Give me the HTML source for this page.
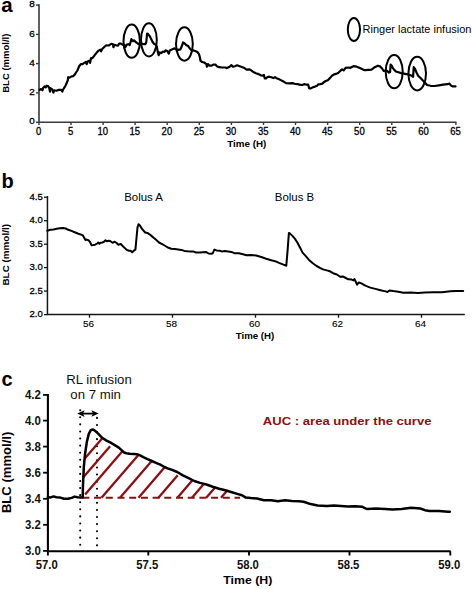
<!DOCTYPE html>
<html><head><meta charset="utf-8"><style>
html,body{margin:0;padding:0;background:#fff;}
svg{display:block;font-family:"Liberation Sans",sans-serif;}
</style></head><body>
<svg width="472" height="589" viewBox="0 0 472 589">
<rect width="472" height="589" fill="#fff"/>
<text x="1.3" y="12.4" font-size="20.5" text-anchor="start" font-weight="bold" fill="#000" >a</text>
<path d="M39 4.2V122.2H456.4" fill="none" stroke="#3a3a3a" stroke-width="1.6"/>
<path d="M36 5.1H39" stroke="#3a3a3a" stroke-width="1.4"/>
<text transform="translate(34.7,7.199999999999999) scale(1.1,1)" font-size="9" text-anchor="end" font-weight="normal" fill="#000" stroke="#000" stroke-width="0.3">8</text>
<path d="M36 34.4H39" stroke="#3a3a3a" stroke-width="1.4"/>
<text transform="translate(34.7,36.5) scale(1.1,1)" font-size="9" text-anchor="end" font-weight="normal" fill="#000" stroke="#000" stroke-width="0.3">6</text>
<path d="M36 63.6H39" stroke="#3a3a3a" stroke-width="1.4"/>
<text transform="translate(34.7,65.7) scale(1.1,1)" font-size="9" text-anchor="end" font-weight="normal" fill="#000" stroke="#000" stroke-width="0.3">4</text>
<path d="M36 92.9H39" stroke="#3a3a3a" stroke-width="1.4"/>
<text transform="translate(34.7,95.0) scale(1.1,1)" font-size="9" text-anchor="end" font-weight="normal" fill="#000" stroke="#000" stroke-width="0.3">2</text>
<path d="M36 122.2H39" stroke="#3a3a3a" stroke-width="1.4"/>
<text transform="translate(34.7,124.3) scale(1.1,1)" font-size="9" text-anchor="end" font-weight="normal" fill="#000" stroke="#000" stroke-width="0.3">0</text>
<path d="M38.9 122.2V125" stroke="#3a3a3a" stroke-width="1.4"/>
<text transform="translate(38.6,134.6) scale(0.95,1)" font-size="10" text-anchor="middle" font-weight="normal" fill="#000" stroke="#000" stroke-width="0.3">0</text>
<path d="M71.0 122.2V125" stroke="#3a3a3a" stroke-width="1.4"/>
<text transform="translate(70.7,134.6) scale(0.95,1)" font-size="10" text-anchor="middle" font-weight="normal" fill="#000" stroke="#000" stroke-width="0.3">5</text>
<path d="M103.1 122.2V125" stroke="#3a3a3a" stroke-width="1.4"/>
<text transform="translate(102.8,134.6) scale(0.95,1)" font-size="10" text-anchor="middle" font-weight="normal" fill="#000" stroke="#000" stroke-width="0.3">10</text>
<path d="M135.1 122.2V125" stroke="#3a3a3a" stroke-width="1.4"/>
<text transform="translate(134.79999999999998,134.6) scale(0.95,1)" font-size="10" text-anchor="middle" font-weight="normal" fill="#000" stroke="#000" stroke-width="0.3">15</text>
<path d="M167.2 122.2V125" stroke="#3a3a3a" stroke-width="1.4"/>
<text transform="translate(166.89999999999998,134.6) scale(0.95,1)" font-size="10" text-anchor="middle" font-weight="normal" fill="#000" stroke="#000" stroke-width="0.3">20</text>
<path d="M199.3 122.2V125" stroke="#3a3a3a" stroke-width="1.4"/>
<text transform="translate(199.0,134.6) scale(0.95,1)" font-size="10" text-anchor="middle" font-weight="normal" fill="#000" stroke="#000" stroke-width="0.3">25</text>
<path d="M231.4 122.2V125" stroke="#3a3a3a" stroke-width="1.4"/>
<text transform="translate(231.1,134.6) scale(0.95,1)" font-size="10" text-anchor="middle" font-weight="normal" fill="#000" stroke="#000" stroke-width="0.3">30</text>
<path d="M263.5 122.2V125" stroke="#3a3a3a" stroke-width="1.4"/>
<text transform="translate(263.2,134.6) scale(0.95,1)" font-size="10" text-anchor="middle" font-weight="normal" fill="#000" stroke="#000" stroke-width="0.3">35</text>
<path d="M295.5 122.2V125" stroke="#3a3a3a" stroke-width="1.4"/>
<text transform="translate(295.2,134.6) scale(0.95,1)" font-size="10" text-anchor="middle" font-weight="normal" fill="#000" stroke="#000" stroke-width="0.3">40</text>
<path d="M327.6 122.2V125" stroke="#3a3a3a" stroke-width="1.4"/>
<text transform="translate(327.3,134.6) scale(0.95,1)" font-size="10" text-anchor="middle" font-weight="normal" fill="#000" stroke="#000" stroke-width="0.3">45</text>
<path d="M359.7 122.2V125" stroke="#3a3a3a" stroke-width="1.4"/>
<text transform="translate(359.4,134.6) scale(0.95,1)" font-size="10" text-anchor="middle" font-weight="normal" fill="#000" stroke="#000" stroke-width="0.3">50</text>
<path d="M391.8 122.2V125" stroke="#3a3a3a" stroke-width="1.4"/>
<text transform="translate(391.5,134.6) scale(0.95,1)" font-size="10" text-anchor="middle" font-weight="normal" fill="#000" stroke="#000" stroke-width="0.3">55</text>
<path d="M423.9 122.2V125" stroke="#3a3a3a" stroke-width="1.4"/>
<text transform="translate(423.59999999999997,134.6) scale(0.95,1)" font-size="10" text-anchor="middle" font-weight="normal" fill="#000" stroke="#000" stroke-width="0.3">60</text>
<path d="M455.9 122.2V125" stroke="#3a3a3a" stroke-width="1.4"/>
<text transform="translate(455.59999999999997,134.6) scale(0.95,1)" font-size="10" text-anchor="middle" font-weight="normal" fill="#000" stroke="#000" stroke-width="0.3">65</text>
<text x="246.8" y="146.5" font-size="9.8" text-anchor="middle" font-weight="bold" fill="#000" >Time (H)</text>
<text transform="translate(8.5,63.2) rotate(-90)" font-size="9.5" font-weight="bold" text-anchor="middle" fill="#000">BLC (mmol/l)</text>
<polyline points="39.4,89.9 41.1,89.1 42.4,90.3 43.2,87.8 44.5,86.5 45.7,87.4 46.6,85.7 47.9,86.1 49.1,87.4 50.0,91.6 50.4,88.2 52.1,89.1 53.4,92.5 54.2,90.3 56.3,90.8 58.9,89.9 61.4,89.9 62.3,91.6 63.1,89.5 64.8,86.9 66.5,83.6 67.8,80.2 68.2,77.2 69.5,77.6 71.6,76.4 73.3,76.1 75.0,74.2 75.7,73.0 77.4,70.5 79.1,66.3 80.8,64.2 82.5,64.2 84.2,62.9 85.9,62.0 86.7,64.2 87.6,61.6 89.3,60.8 90.1,62.9 91.0,58.2 92.2,58.2 94.3,55.7 96.9,52.3 98.6,50.6 100.3,49.7 101.1,51.4 102.0,49.3 104.5,46.8 106.2,45.3 108.7,45.5 111.3,43.8 113.0,44.2 113.4,47.2 114.5,44.8 116.2,45.3 117.9,45.7 119.2,43.6 120.5,43.6 122.5,44.6 124.7,45.4 125.5,47.1 126.8,44.6 128.5,44.2 129.7,45.0 130.6,42.0 131.4,39.1 132.3,40.3 133.1,41.2 134.0,40.3 135.3,41.6 136.9,42.9 138.2,43.7 140.3,44.6 142.0,43.7 143.7,44.2 145.4,44.2 146.3,42.0 147.1,33.6 148.0,34.0 149.7,36.1 151.4,39.5 152.6,42.0 153.9,43.7 155.6,44.6 156.9,47.1 157.7,51.4 158.7,55.2 159.8,52.5 161.4,53.1 162.9,51.5 164.5,52.0 165.6,50.4 167.2,51.0 168.8,53.6 169.8,50.4 171.9,49.4 174.6,48.3 176.2,49.4 178.3,49.9 180.4,49.4 182.0,45.7 183.1,42.5 184.7,43.5 186.2,45.1 187.8,45.7 189.4,47.8 191.0,49.9 193.1,50.4 195.3,51.0 197.4,52.0 199.0,54.1 200.0,57.8 200.5,60.9 202.1,62.0 204.2,62.5 206.4,64.1 206.9,66.7 207.9,64.1 209.5,65.7 211.7,65.7 213.2,64.6 215.4,64.6 216.9,66.2 219.1,67.2 222.2,67.5 225.4,67.5 227.0,68.1 229.7,66.7 231.3,65.1 232.8,66.7 235.0,66.2 237.1,65.3 239.7,66.2 242.4,67.2 244.5,68.1 246.6,69.6 249.6,69.3 251.2,70.4 253.3,72.0 255.9,73.2 258.6,74.1 260.7,75.3 263.4,75.7 263.9,74.9 264.7,78.3 266.0,78.3 267.6,77.0 269.2,76.7 271.3,77.2 273.4,78.1 275.0,77.2 276.6,78.3 279.8,79.6 283.0,81.3 286.1,83.1 289.3,83.4 292.5,83.1 294.6,83.8 297.8,84.1 299.2,84.7 302.4,85.0 304.5,84.1 306.6,84.7 308.2,84.7 309.2,88.4 310.8,88.4 312.9,87.3 315.1,86.6 317.2,85.7 318.2,84.4 320.4,84.1 322.5,83.6 323.5,82.5 325.7,81.0 327.8,80.2 329.9,78.1 332.0,75.7 334.1,74.4 336.3,73.9 338.4,72.8 340.5,70.7 342.1,69.3 343.7,70.4 345.6,67.8 348.2,67.5 350.4,67.8 353.5,66.2 356.7,66.7 359.9,68.1 363.1,69.6 365.2,70.2 368.4,69.9 371.5,69.6 374.7,67.2 377.9,65.7 380.0,66.4 382.1,68.5 383.7,71.0 385.8,70.4 387.4,71.1 389.0,72.6 390.1,72.0 390.6,64.6 391.7,65.7 392.7,67.8 394.3,69.9 395.9,71.5 398.5,72.3 401.2,73.1 403.8,73.6 406.5,74.1 409.1,74.7 411.8,75.7 413.1,76.8 413.7,67.2 415.0,68.8 416.5,72.5 418.1,75.7 420.3,77.8 422.4,80.0 424.5,82.4 427.1,85.0 430.5,85.8 434.7,86.0 438.9,85.4 443.2,84.7 447.4,84.2 449.5,83.6 450.8,85.4 452.5,86.4 454.2,86.3 455.5,86.4" fill="none" stroke="#000" stroke-width="2.2" stroke-linejoin="round" stroke-linecap="round"/>
<ellipse cx="131.7" cy="41.2" rx="8.2" ry="16.6" fill="none" stroke="#000" stroke-width="2"/>
<ellipse cx="148.9" cy="39.9" rx="7.9" ry="16.6" fill="none" stroke="#000" stroke-width="2"/>
<ellipse cx="184.4" cy="44" rx="8.4" ry="16.7" fill="none" stroke="#000" stroke-width="2"/>
<ellipse cx="394.2" cy="71.7" rx="8.5" ry="16.6" fill="none" stroke="#000" stroke-width="2"/>
<ellipse cx="417.2" cy="73.6" rx="8.8" ry="16.8" fill="none" stroke="#000" stroke-width="2"/>
<ellipse cx="353.9" cy="29.5" rx="6.1" ry="11.5" fill="none" stroke="#000" stroke-width="2"/>
<text x="362.6" y="33.2" font-size="11" text-anchor="start" font-weight="normal" fill="#000" >Ringer lactate infusion</text>
<text x="1.6" y="187.6" font-size="20" text-anchor="start" font-weight="bold" fill="#000" >b</text>
<path d="M47.45 196.1V314.6H464.8" fill="none" stroke="#151515" stroke-width="1.5"/>
<path d="M44 197.2H47.45" stroke="#151515" stroke-width="1.3"/>
<text x="42.7" y="199.6" font-size="9.5" text-anchor="end" font-weight="normal" fill="#000" stroke="#000" stroke-width="0.3">4.5</text>
<path d="M44 220.7H47.45" stroke="#151515" stroke-width="1.3"/>
<text x="42.7" y="223.1" font-size="9.5" text-anchor="end" font-weight="normal" fill="#000" stroke="#000" stroke-width="0.3">4.0</text>
<path d="M44 244.2H47.45" stroke="#151515" stroke-width="1.3"/>
<text x="42.7" y="246.6" font-size="9.5" text-anchor="end" font-weight="normal" fill="#000" stroke="#000" stroke-width="0.3">3.5</text>
<path d="M44 267.6H47.45" stroke="#151515" stroke-width="1.3"/>
<text x="42.7" y="270.0" font-size="9.5" text-anchor="end" font-weight="normal" fill="#000" stroke="#000" stroke-width="0.3">3.0</text>
<path d="M44 291.1H47.45" stroke="#151515" stroke-width="1.3"/>
<text x="42.7" y="293.5" font-size="9.5" text-anchor="end" font-weight="normal" fill="#000" stroke="#000" stroke-width="0.3">2.5</text>
<path d="M44 314.6H47.45" stroke="#151515" stroke-width="1.3"/>
<text x="42.7" y="317.0" font-size="9.5" text-anchor="end" font-weight="normal" fill="#000" stroke="#000" stroke-width="0.3">2.0</text>
<path d="M89.5 314.6V317.7" stroke="#151515" stroke-width="1.3"/>
<text transform="translate(88.6,326.6) scale(1.05,1)" font-size="9.5" text-anchor="middle" font-weight="normal" fill="#000" stroke="#000" stroke-width="0.1">56</text>
<path d="M172.5 314.6V317.7" stroke="#151515" stroke-width="1.3"/>
<text transform="translate(171.6,326.6) scale(1.05,1)" font-size="9.5" text-anchor="middle" font-weight="normal" fill="#000" stroke="#000" stroke-width="0.1">58</text>
<path d="M255.5 314.6V317.7" stroke="#151515" stroke-width="1.3"/>
<text transform="translate(254.6,326.6) scale(1.05,1)" font-size="9.5" text-anchor="middle" font-weight="normal" fill="#000" stroke="#000" stroke-width="0.1">60</text>
<path d="M338.5 314.6V317.7" stroke="#151515" stroke-width="1.3"/>
<text transform="translate(337.6,326.6) scale(1.05,1)" font-size="9.5" text-anchor="middle" font-weight="normal" fill="#000" stroke="#000" stroke-width="0.1">62</text>
<path d="M421.5 314.6V317.7" stroke="#151515" stroke-width="1.3"/>
<text transform="translate(420.6,326.6) scale(1.05,1)" font-size="9.5" text-anchor="middle" font-weight="normal" fill="#000" stroke="#000" stroke-width="0.1">64</text>
<text x="255" y="339.3" font-size="9.7" text-anchor="middle" font-weight="bold" fill="#000" >Time (H)</text>
<text transform="translate(8.6,254.8) rotate(-90)" font-size="9.9" font-weight="bold" text-anchor="middle" fill="#000">BLC (mmol/l)</text>
<text transform="translate(143.6,201.3) scale(1.04,1)" font-size="11" text-anchor="middle" font-weight="normal" fill="#000" >Bolus A</text>
<text transform="translate(294.5,201.3) scale(1.04,1)" font-size="11" text-anchor="middle" font-weight="normal" fill="#000" >Bolus B</text>
<polyline points="47.3,230.7 50.3,229.8 53.5,229.5 56.7,228.8 59.8,228.2 63.0,228.0 65.7,228.5 68.3,229.8 71.5,230.9 74.7,232.2 77.8,233.5 81.0,234.6 82.9,235.4 84.2,237.8 85.3,239.9 86.8,239.6 88.4,240.2 90.0,242.0 91.6,245.2 93.2,245.0 95.1,244.7 97.2,243.5 98.3,242.6 99.4,243.8 100.4,242.8 102.5,242.5 104.1,241.7 105.5,240.3 106.8,241.2 108.9,240.7 110.5,241.2 112.6,242.8 114.7,241.7 116.3,242.8 118.4,244.7 120.8,244.0 122.7,246.0 124.8,248.1 126.9,249.9 129.0,250.7 130.6,250.7 132.2,252.3 133.8,250.7 135.4,249.7 136.4,239.1 137.5,227.4 138.6,224.2 140.1,225.8 141.7,228.5 143.1,230.1 145.2,232.5 147.4,232.9 149.5,234.3 152.7,236.9 155.8,239.6 159.0,242.5 162.2,244.2 165.4,246.0 168.5,247.8 171.2,248.8 174.9,249.1 178.1,249.4 181.3,249.9 184.4,250.9 187.6,251.3 190.8,251.6 193.2,251.4 195.9,252.5 199.6,252.5 202.8,252.2 205.9,251.9 208.6,253.5 211.2,253.8 212.8,253.2 214.4,249.6 216.5,250.4 219.7,250.7 221.8,251.4 225.0,251.1 228.2,251.4 231.4,251.9 234.6,253.2 238.8,253.2 242.1,254.0 246.5,255.3 251.0,255.1 256.1,255.5 261.2,257.0 266.2,258.7 271.3,260.3 275.1,261.2 279.0,262.9 282.8,264.4 286.3,265.7 287.6,250.4 288.9,232.9 290.4,233.9 292.9,236.4 295.0,238.9 297.5,242.7 300.1,247.8 302.6,252.6 305.8,256.1 309.0,259.9 312.8,263.3 316.6,266.0 320.4,268.1 323.0,269.4 326.8,270.4 330.0,271.3 333.1,273.2 336.9,274.5 340.1,276.8 342.7,276.4 345.8,278.0 348.4,279.3 351.6,279.6 353.5,280.4 354.4,279.0 355.7,281.5 357.0,284.7 358.9,282.5 361.4,283.4 365.3,285.6 370.3,287.6 375.4,288.9 380.5,290.2 385.6,291.4 387.5,292.0 389.4,290.4 393.2,291.1 398.3,291.7 403.4,292.7 410.7,292.5 417.8,293.0 424.9,292.6 433.4,292.3 441.9,292.3 450.4,291.3 456.1,290.9 463.2,290.9" fill="none" stroke="#000" stroke-width="2" stroke-linejoin="round" stroke-linecap="round"/>
<text x="1.5" y="385.7" font-size="20" text-anchor="start" font-weight="bold" fill="#000" >c</text>
<path d="M80.2 410.2V546M97 417.9V546" stroke="#000" stroke-width="2.1" stroke-linecap="round" stroke-dasharray="0 7.08"/>
<path d="M84.6 458.7L102.5 438.0 M83.3 477.3L110.1 446.3 M85.1 494.4L122.6 451.0 M101.5 497.7L138.6 454.7 M120.0 497.7L151.7 460.9 M138.5 497.7L164.9 467.1 M158.4 497.7L177.7 475.3 M177.4 497.7L192.6 480.1 M192.0 497.7L204.0 483.8 M206.2 497.7L215.1 487.4 M221.0 497.7L227.0 490.7" stroke="#8e0e12" stroke-width="2.3" fill="none"/>
<path d="M82.4 497.7H240" stroke="#8e0e12" stroke-width="2.1" stroke-dasharray="7 4.7"/>
<polyline points="47.9,497.2 50.7,497.4 53.6,496.4 56.4,497.2 60.3,497.6 64.1,498.8 67.9,498.8 71.7,497.9 74.6,496.6 77.4,497.2 80.3,497.4 82.7,497.4 82.9,488.0 83.2,480.0 83.8,467.1 85.0,454.3 86.9,441.6 88.8,433.9 90.8,430.1 92.7,429.5 94.6,430.4 98.4,433.9 102.2,437.8 106.5,440.6 110.6,442.7 114.7,445.1 118.8,447.6 122.1,450.6 124.2,452.5 126.4,453.2 129.5,453.8 133.8,454.0 137.5,454.3 140.1,455.4 143.3,457.2 147.5,459.1 151.8,461.0 156.0,462.8 160.3,464.6 164.5,467.0 168.7,468.8 171.4,469.6 177.2,472.0 182.9,475.3 188.6,478.1 194.3,481.0 200.0,482.9 206.4,484.5 212.7,486.7 219.1,488.7 225.4,490.3 231.8,492.2 238.1,494.1 242.0,495.3 245.8,497.6 250.8,498.1 257.0,498.5 264.0,500.2 271.0,500.2 278.0,501.3 285.0,500.2 292.0,500.9 299.0,501.3 303.6,501.8 310.6,504.1 317.6,505.5 326.9,506.0 333.9,505.5 340.9,506.0 347.9,506.4 355.0,506.3 362.0,506.7 366.7,509.0 376.0,508.5 385.3,509.0 392.3,509.5 401.6,509.0 411.0,507.8 420.3,508.5 424.9,510.2 429.6,510.9 438.9,510.9 448.2,511.8 449.8,511.8" fill="none" stroke="#000" stroke-width="2.5" stroke-linejoin="round" stroke-linecap="round"/>
<path d="M47.9 393.9V551.2H450.6" fill="none" stroke="#000" stroke-width="2.1"/>
<path d="M43.1 394.9H47.9" stroke="#000" stroke-width="1.8"/>
<text transform="translate(40.9,399.2) scale(0.88,1)" font-size="13" text-anchor="end" font-weight="bold" fill="#111" >4.2</text>
<path d="M43.1 420.6H47.9" stroke="#000" stroke-width="1.8"/>
<text transform="translate(40.9,424.90000000000003) scale(0.88,1)" font-size="13" text-anchor="end" font-weight="bold" fill="#111" >4.0</text>
<path d="M43.1 446.6H47.9" stroke="#000" stroke-width="1.8"/>
<text transform="translate(40.9,450.90000000000003) scale(0.88,1)" font-size="13" text-anchor="end" font-weight="bold" fill="#111" >3.8</text>
<path d="M43.1 472.7H47.9" stroke="#000" stroke-width="1.8"/>
<text transform="translate(40.9,477.0) scale(0.88,1)" font-size="13" text-anchor="end" font-weight="bold" fill="#111" >3.6</text>
<path d="M43.1 498.8H47.9" stroke="#000" stroke-width="1.8"/>
<text transform="translate(40.9,503.1) scale(0.88,1)" font-size="13" text-anchor="end" font-weight="bold" fill="#111" >3.4</text>
<path d="M43.1 524.8H47.9" stroke="#000" stroke-width="1.8"/>
<text transform="translate(40.9,529.0999999999999) scale(0.88,1)" font-size="13" text-anchor="end" font-weight="bold" fill="#111" >3.2</text>
<path d="M43.1 550.9H47.9" stroke="#000" stroke-width="1.8"/>
<text transform="translate(40.9,555.1999999999999) scale(0.88,1)" font-size="13" text-anchor="end" font-weight="bold" fill="#111" >3.0</text>
<path d="M47.9 551.2V555.5" stroke="#000" stroke-width="1.9"/>
<text transform="translate(46.8,568.6) scale(0.87,1)" font-size="13" text-anchor="middle" font-weight="bold" fill="#111" >57.0</text>
<path d="M148.3 551.2V555.5" stroke="#000" stroke-width="1.9"/>
<text transform="translate(147.20000000000002,568.6) scale(0.87,1)" font-size="13" text-anchor="middle" font-weight="bold" fill="#111" >57.5</text>
<path d="M249.0 551.2V555.5" stroke="#000" stroke-width="1.9"/>
<text transform="translate(247.9,568.6) scale(0.87,1)" font-size="13" text-anchor="middle" font-weight="bold" fill="#111" >58.0</text>
<path d="M349.5 551.2V555.5" stroke="#000" stroke-width="1.9"/>
<text transform="translate(348.4,568.6) scale(0.87,1)" font-size="13" text-anchor="middle" font-weight="bold" fill="#111" >58.5</text>
<path d="M450.3 551.2V555.5" stroke="#000" stroke-width="1.9"/>
<text transform="translate(449.2,568.6) scale(0.87,1)" font-size="13" text-anchor="middle" font-weight="bold" fill="#111" >59.0</text>
<text transform="translate(247.8,584.3) scale(1.1,1)" font-size="11.2" text-anchor="middle" font-weight="bold" fill="#000" >Time (H)</text>
<text transform="translate(10.8,472.4) rotate(-90) scale(1.09,1)" font-size="12" font-weight="bold" text-anchor="middle" fill="#000">BLC (mmol/l)</text>
<text transform="translate(99,384.4) scale(1.1,1)" font-size="12" text-anchor="middle" font-weight="normal" fill="#111" >RL infusion</text>
<text transform="translate(95.6,398.9) scale(1.1,1)" font-size="12" text-anchor="middle" font-weight="normal" fill="#111" >on 7 min</text>
<path d="M80 413.6H96" stroke="#000" stroke-width="1.8"/>
<path d="M77.2 413.6L84.6 410.3L83.0 413.6L84.6 416.9Z M98.7 413.5L91.4 410.2L93.0 413.5L91.4 416.8Z" fill="#000"/>
<text transform="translate(262.8,424.5) scale(1.11,1)" font-size="11.8" text-anchor="start" font-weight="bold" fill="#8e0e12" >AUC : area under the curve</text>
</svg></body></html>
